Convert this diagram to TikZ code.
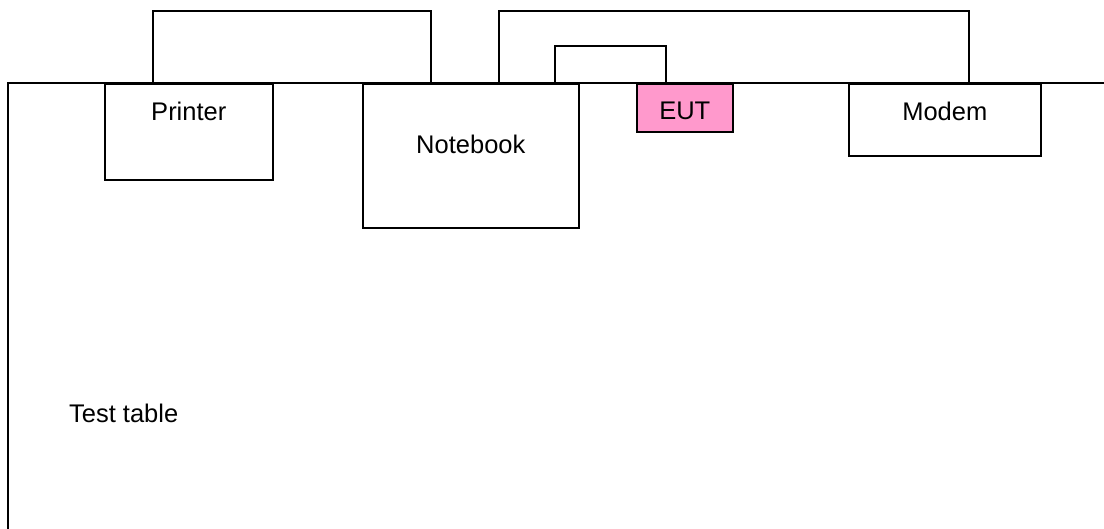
\documentclass[tikz,border=0pt]{standalone}
\usepackage{fontspec}
\setmainfont{Liberation Sans}
\usepackage{tikz}
\definecolor{eutpink}{RGB}{255,153,204}
\newcommand{\unitfont}{\fontsize{25.5}{30}\selectfont}

\begin{document}
\begin{tikzpicture}[x=1pt, y=-1pt, line width=1.6pt,
  unit/.style={draw, anchor=north west, inner sep=0pt},
  unittext/.style={anchor=center, font=\unitfont, yshift=-#1}]
\useasboundingbox (0,0) rectangle (1104,529);
\draw (8,529) -- (8,83) -- (1104,83);
\node[unit, minimum width=168, minimum height=96, label={[unittext=28]north:Printer}] (printer) at (104,83) {};
\node[unit, minimum width=216, minimum height=144, label={[unittext=61]north:Notebook}] (notebook) at (362,83) {};
\node[unit, fill=eutpink, minimum width=96, minimum height=48, label={[unittext=28]north:EUT}] (eut) at (636,83) {};
\node[unit, minimum width=192, minimum height=72, label={[unittext=28]north:Modem}] (modem) at (848,83) {};
\node[anchor=west, font=\unitfont] (table) at (65,413) {Test table};
\draw ([xshift=-36pt]printer.north) -- ++(0,-72) -| ([xshift=-40pt]notebook.north);
\draw ([xshift=28pt]notebook.north) -- ++(0,-72) -| ([xshift=24pt]modem.north);
\draw ([xshift=84pt]notebook.north) -- ++(0,-37) -| ([xshift=-19pt]eut.north);
\end{tikzpicture}
\end{document}
